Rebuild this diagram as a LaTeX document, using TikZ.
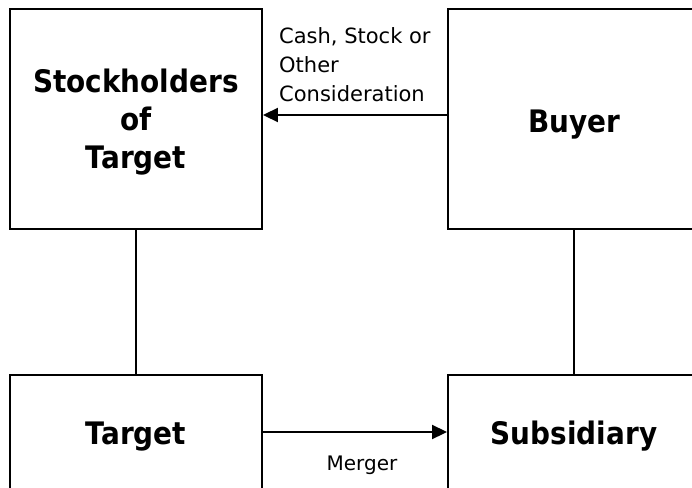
\documentclass[tikz,border=0pt]{standalone}
\usepackage{fontspec}
\setmainfont{DejaVu Sans}
\newfontfamily\boldfont{DejaVu Sans}[FakeStretch=0.9]
\usetikzlibrary{arrows.meta}
\begin{document}
\begin{tikzpicture}[x=1pt,y=-1pt,
  box/.style={draw, line width=1.9pt, minimum width=252pt, inner sep=0pt},
  boldtext/.style={font=\boldfont\bfseries\fontsize{31}{38}\selectfont, align=center, inner sep=0pt},
  one/.style={boldtext, text depth=0pt},
  conn/.style={line width=1.9pt},
  arr/.style={conn, -{Triangle[length=15pt,width=14pt]}},
  small/.style={font=\fontsize{21}{28.8}\selectfont, inner sep=0pt, align=left}]
\useasboundingbox (0,0) rectangle (692,487);
\clip (0,0) rectangle (692,487);
\node[box, minimum height=220pt] (sot) at (136,119) {};
\node[boldtext] (sottext) at (136,122.5) {Stockholders\\of\\Target};
\node[box, one, text height=26.6pt, minimum height=220pt] (buy) at (574,119) {Buyer};
\node[box, one, text height=22.6pt, minimum height=116pt] (tgt) at (136,433) {Target};
\node[box, one, text height=22.6pt, minimum height=116pt] (sub) at (574,433) {Subsidiary};
\draw[conn] (sot.south) -- (tgt.north);
\draw[conn] (buy.south) -- (sub.north);
\draw[arr] ([yshift=4pt]buy.west) -- ([yshift=4pt]sot.east);
\draw[arr] ([yshift=1pt]tgt.east) -- ([yshift=1pt]sub.west);
\node[small, anchor=north west] (cash) at (279,27.3) {Cash, Stock or\\Other\\Consideration};
\node[small, font=\fontsize{20}{24}\selectfont, anchor=base] (merger) at (362,470) {Merger};
\end{tikzpicture}
\end{document}
